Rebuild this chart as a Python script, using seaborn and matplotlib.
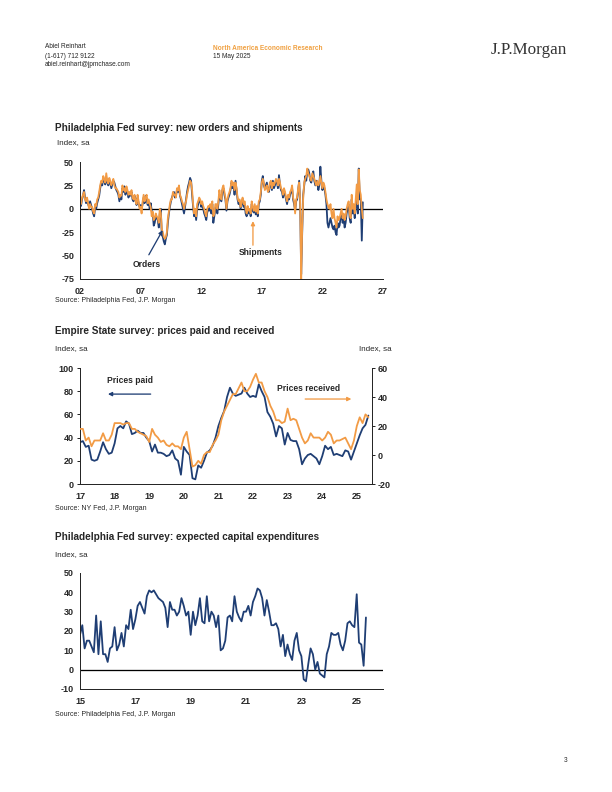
import pandas as pd
import matplotlib
matplotlib.use("Agg")
import matplotlib.pyplot as plt
import seaborn as sns

# Philadelphia Fed: new orders and shipments, monthly Jan 2002 - May 2025
orders = [
    5, 3, 10, 14, 20, 12, 6, 10, 5, 2, 8, 4,
    0, -5, -8, 2, 0, 6, 10, 14, 22, 28, 25, 32,
    30, 26, 33, 28, 25, 30, 27, 22, 26, 30, 28, 24,
    20, 18, 15, 8, 14, 10, 22, 18, 24, 15, 20, 18,
    12, 16, 14, 18, 10, 8, 14, 10, 4, 12, 6, 2,
    4, 0, 5, 12, 6, 14, 10, 4, 8, 0, 6, -2,
    -5, -18, -15, -8, -10, -12, -20, -5, 0, -28, -30, -35,
    -38, -32, -28, -15, -5, 2, 8, 12, 15, 18, 12, 14,
    20, 18, 22, 14, 10, 5, 0, -5, 2, 10, 18, 24,
    28, 33, 30, 15, 2, -8, -2, -12, 0, 5, 10, 8,
    2, 5, 0, -5, -8, -12, -4, 0, -2, 2, -5, 5,
    -15, -8, 0, 2, -5, 5, 15, 10, 8, 20, 22, 15,
    10, -2, 8, 12, 15, 20, 28, 22, 25, 15, 30, 20,
    10, 5, 8, 0, 5, 10, 2, 5, -5, -8, 0, -5,
    -2, -8, 5, -2, -4, 2, -6, 0, -8, 5, 8, 15,
    30, 35, 25, 22, 25, 28, 20, 18, 25, 28, 20, 30,
    22, 25, 30, 28, 22, 36, 25, 20, 18, 12, 20, 15,
    10, 5, 12, 10, 15, 18, 22, 10, 5, -2, 8, 10,
    20, 30, 5, -70, -25, 15, 25, 35, 30, 40, 42, 38,
    30, 28, 35, 40, 30, 25, 30, 28, 20, 25, 45, 30,
    20, 25, 22, 15, 5, -15, -20, -15, -10, -15, -20, -22,
    -18, -25, -28, -15, -20, -18, -10, -5, -15, -10, -20, -15,
    -5, 0, 5, -10, -15, 10, -5, 0, -10, 5, 10, -5,
    43, 10, 10, -34, 7,
]
shipments = [
    8, 5, 12, 15, 18, 10, 8, 12, 6, 0, 5, 2,
    2, -3, -5, 5, 3, 10, 12, 18, 25, 30, 28, 35,
    32, 28, 38, 30, 27, 33, 30, 25, 28, 32, 25, 22,
    22, 20, 18, 12, 15, 14, 25, 20, 22, 18, 24, 20,
    15, 18, 15, 20, 12, 10, 15, 8, 5, 15, 8, 0,
    2, -5, 8, 15, 8, 12, 15, 6, 10, 5, 2, -8,
    -3, -12, -10, -5, -8, -10, -15, 0, -5, -22, -25, -30,
    -32, -30, -25, -10, -3, 5, 10, 10, 18, 15, 15, 12,
    22, 20, 25, 15, 12, 8, 5, 0, 5, 8, 15, 20,
    25, 30, 28, 20, 5, -5, 0, -8, 5, 8, 12, 10,
    5, 8, 3, 0, -5, -8, 0, 3, 2, 5, 0, 8,
    -8, -5, 5, 5, 0, 8, 20, 12, 10, 22, 25, 18,
    12, 0, 10, 15, 18, 22, 30, 25, 28, 20, 28, 22,
    12, 8, 10, 2, 8, 12, 5, 8, 0, -5, 3, -2,
    0, -5, 8, 2, -2, 5, -3, 3, -5, 8, 10, 18,
    28, 32, 28, 20, 22, 25, 18, 20, 28, 30, 22, 28,
    25, 28, 32, 30, 25, 32, 28, 22, 20, 15, 22, 18,
    12, 8, 15, 12, 18, 20, 25, 12, 8, -5, 10, 12,
    22, 28, 8, -75, -20, 12, 28, 32, 35, 43, 38, 35,
    32, 30, 38, 35, 32, 28, 25, 30, 25, 28, 35, 28,
    22, 28, 25, 18, 10, 5, 2, 0, 5, -5, -10, 0,
    -10, -15, -20, -8, -12, -10, -5, 0, -10, -5, -12, -8,
    0, 5, 8, -5, -10, 15, 0, 5, -5, 10, 26, 5,
    42, 20, 15, 0, -10,
]

# Empire State: prices paid (left axis) and received (right axis), Jan 2017 - May 2025
prices_paid = [
    36, 37, 32, 33, 21, 20, 21, 28, 36, 30, 26, 27,
    35, 48, 50, 48, 54, 52, 43, 44, 46, 44, 44, 40,
    37, 28, 34, 27, 27, 26, 24, 25, 29, 22, 20, 8,
    32, 28, 25, 5, 4, 16, 14, 20, 27, 29, 33, 40,
    50, 57, 63, 75, 83, 78, 76, 77, 78, 83, 78, 75,
    76, 75, 86, 80, 75, 62, 58, 52, 41, 50, 48, 34,
    44, 38, 37, 37, 30, 17, 22, 25, 26, 24, 22, 17,
    24, 33, 30, 32, 25, 26, 25, 24, 29, 28, 21, 28,
    35, 42, 48, 51, 59,
]
prices_received = [
    18, 18, 10, 12, 6, 10, 10, 10, 15, 10, 10, 14,
    22, 22, 22, 21, 22, 22, 18, 18, 16, 15, 14, 13,
    9, 18, 14, 12, 9, 10, 7, 6, 8, 6, 6, 4,
    12, 16, 4, -8, -7, -4, -6, 0, 2, 2, 7, 10,
    14, 24, 30, 34, 38, 42, 42, 46, 50, 44, 44, 47,
    52, 56, 50, 50, 44, 40, 34, 30, 24, 24, 22, 23,
    32, 24, 25, 24, 18, 12, 8, 10, 15, 12, 12, 12,
    10, 12, 16, 14, 8, 10, 10, 11, 12, 8, 4, 10,
    20, 26, 22, 28, 26,
]

# Philadelphia Fed: expected capital expenditures, Jan 2015 - May 2025
capex = [
    18, 23, 11, 15, 15, 12, 9, 28, 8, 25, 8, 8,
    4, 11, 12, 22, 10, 13, 19, 12, 23, 21, 31, 21,
    26, 33, 35, 32, 29, 38, 41, 40, 41, 39, 37, 36,
    35, 32, 22, 35, 31, 31, 28, 30, 37, 33, 28, 30,
    18, 30, 23, 28, 37, 25, 24, 38, 25, 30, 28, 22,
    28, 10, 11, 15, 27, 28, 25, 38, 30, 27, 25, 30,
    30, 33, 28, 35, 38, 42, 41, 37, 28, 36, 30, 23,
    23, 24, 21, 12, 18, 7, 13, 8, 5, 15, 19, 10,
    7, -5, -6, 3, 11, 8, 0, 4, -2, -3, -4, 8,
    12, 19, 18, 18, 19, 13, 10, 15, 24, 25, 23, 22,
    39, 14, 13, 2, 27,
]

BLUE = "#1f3e74"
ORANGE = "#f29b45"
W, H = 612, 792
FONT = ["Liberation Sans", "DejaVu Sans"]
TICK_SIZE = 9
LW = 1.8


def monthly_frame(start_year, **series):
    n = len(next(iter(series.values())))
    df = pd.DataFrame(series)
    df["t"] = [start_year + i / 12 for i in range(n)]
    return df


def fx(px):
    return px / W


def fy(py):
    return 1 - py / H


def style_axis(ax):
    for side in ["top", "right"]:
        ax.spines[side].set_visible(False)
    ax.spines["left"].set_linewidth(1)
    ax.spines["bottom"].set_linewidth(1)
    ax.tick_params(axis="y", direction="out", length=3, width=1, pad=3,
                   labelsize=TICK_SIZE)
    ax.tick_params(axis="x", which="both", direction="inout", width=1, pad=5,
                   labelsize=TICK_SIZE)
    ax.tick_params(axis="x", which="major", length=5)
    ax.tick_params(axis="x", which="minor", length=3)
    for lab in ax.get_xticklabels() + ax.get_yticklabels():
        lab.set_fontweight("bold")
    ax.set_xlabel("")
    ax.set_ylabel("")
    ax.grid(False)


sns.set_style("white")
plt.rcParams["font.family"] = FONT
plt.rcParams["axes.unicode_minus"] = False

fig = plt.figure(figsize=(W / 72, H / 72), dpi=72)

# header
fig.text(fx(45), fy(47), "Abiel Reinhart", fontsize=6.5, va="center")
fig.text(fx(45), fy(56), "(1-617) 712 9122", fontsize=6.5, va="center")
fig.text(fx(45), fy(65), "abiel.reinhart@jpmchase.com", fontsize=6.5, va="center")
fig.text(fx(213), fy(49), "North America Economic Research", fontsize=6.5,
         color="#f0a040", fontweight="bold", va="center")
fig.text(fx(213), fy(57), "15 May 2025", fontsize=6.5, va="center")
fig.text(fx(567), fy(50), "J.P.Morgan", fontsize=17, ha="right", va="center",
         family=["Liberation Serif", "DejaVu Serif"], color="#333333")
fig.text(fx(567), fy(760), "3", fontsize=6.5, ha="right", va="center")

# ---- chart 1: new orders and shipments ----
df1 = monthly_frame(2002, orders=orders, shipments=shipments)
ax1 = fig.add_axes([fx(80), fy(279), fx(383 - 80), (279 - 162) / H])
ax1.axhline(0, color="black", lw=1.3, zorder=1)
sns.lineplot(data=df1, x="t", y="orders", ax=ax1, color=BLUE, lw=LW)
sns.lineplot(data=df1, x="t", y="shipments", ax=ax1, color=ORANGE, lw=LW)
ax1.set_xlim(2002, 2027)
ax1.set_ylim(-75, 50)
ax1.set_yticks([50, 25, 0, -25, -50, -75])
ax1.set_xticks(range(2002, 2028, 5))
ax1.set_xticks(range(2002, 2028), minor=True)
ax1.set_xticklabels([f"{y % 100:02d}" for y in range(2002, 2028, 5)])
style_axis(ax1)
ax1.text(2007.5, -59, "Orders", fontsize=8.5, fontweight="bold", ha="center",
         va="center")
ax1.annotate("", xy=(2008.9, -21), xytext=(2007.6, -51),
             arrowprops=dict(arrowstyle="-|>", color=BLUE, lw=1.3,
                             mutation_scale=8))
ax1.text(2016.9, -47, "Shipments", fontsize=8.5, fontweight="bold", ha="center",
         va="center")
ax1.annotate("", xy=(2016.27, -11), xytext=(2016.27, -41),
             arrowprops=dict(arrowstyle="-|>", color=ORANGE, lw=1.3,
                             mutation_scale=8))
fig.text(fx(55), fy(128), "Philadelphia Fed survey: new orders and shipments",
         fontsize=10, fontweight="bold", va="center")
fig.text(fx(57), fy(143), "Index, sa", fontsize=8, va="center")
fig.text(fx(55), fy(301), "Source: Philadelphia Fed, J.P. Morgan", fontsize=7,
         va="center")

# ---- chart 2: Empire State prices ----
df2 = monthly_frame(2017, paid=prices_paid, received=prices_received)
ax2 = fig.add_axes([fx(80), fy(484), fx(371.7 - 80), (484 - 368) / H])
sns.lineplot(data=df2, x="t", y="paid", ax=ax2, color=BLUE, lw=LW)
ax2.set_xlim(2017, 2025.43)
ax2.set_ylim(0, 100)
ax2.set_yticks(range(0, 101, 20))
ax2.set_xticks(range(2017, 2026))
ax2.set_xticklabels([str(y % 100) for y in range(2017, 2026)])
style_axis(ax2)
ax2r = ax2.twinx()
sns.lineplot(data=df2, x="t", y="received", ax=ax2r, color=ORANGE, lw=LW)
ax2r.set_ylim(-20, 60)
ax2r.set_yticks(range(-20, 61, 20))
for side in ["top", "left", "bottom"]:
    ax2r.spines[side].set_visible(False)
ax2r.spines["right"].set_linewidth(1)
ax2r.tick_params(axis="y", direction="out", length=3, width=1, pad=3,
                 labelsize=TICK_SIZE)
for lab in ax2r.get_yticklabels():
    lab.set_fontweight("bold")
ax2r.set_ylabel("")
ax2.text(2018.45, 89.5, "Prices paid", fontsize=8.5, fontweight="bold",
         ha="center", va="center", zorder=5)
ax2.annotate("", xy=(2017.75, 77.5), xytext=(2019.1, 77.5),
             arrowprops=dict(arrowstyle="-|>", color=BLUE, lw=1.3,
                             mutation_scale=8))
ax2r.text(2023.6, 46, "Prices received", fontsize=8.5, fontweight="bold",
          ha="center", va="center")
ax2r.annotate("", xy=(2024.9, 38.6), xytext=(2023.45, 38.6),
              arrowprops=dict(arrowstyle="-|>", color=ORANGE, lw=1.3,
                              mutation_scale=8))
fig.text(fx(55), fy(331), "Empire State survey: prices paid and received",
         fontsize=10, fontweight="bold", va="center")
fig.text(fx(55), fy(349), "Index, sa", fontsize=8, va="center")
fig.text(fx(392), fy(349), "Index, sa", fontsize=8, va="center", ha="right")
fig.text(fx(55), fy(508), "Source: NY Fed, J.P. Morgan", fontsize=7,
         va="center")

# ---- chart 3: expected capex ----
df3 = monthly_frame(2015, capex=capex)
ax3 = fig.add_axes([fx(80), fy(689), fx(383 - 80), (689 - 573) / H])
ax3.axhline(0, color="black", lw=1.3, zorder=1)
sns.lineplot(data=df3, x="t", y="capex", ax=ax3, color=BLUE, lw=LW)
ax3.set_xlim(2015, 2025.95)
ax3.set_ylim(-10, 50)
ax3.set_yticks(range(-10, 51, 10))
ax3.set_xticks(range(2015, 2026, 2))
ax3.set_xticks(range(2015, 2026), minor=True)
ax3.set_xticklabels([str(y % 100) for y in range(2015, 2026, 2)])
style_axis(ax3)
fig.text(fx(55), fy(537), "Philadelphia Fed survey: expected capital expenditures",
         fontsize=10, fontweight="bold", va="center")
fig.text(fx(55), fy(555), "Index, sa", fontsize=8, va="center")
fig.text(fx(55), fy(714), "Source: Philadelphia Fed, J.P. Morgan", fontsize=7,
         va="center")

fig.savefig("out.png", dpi=72)
